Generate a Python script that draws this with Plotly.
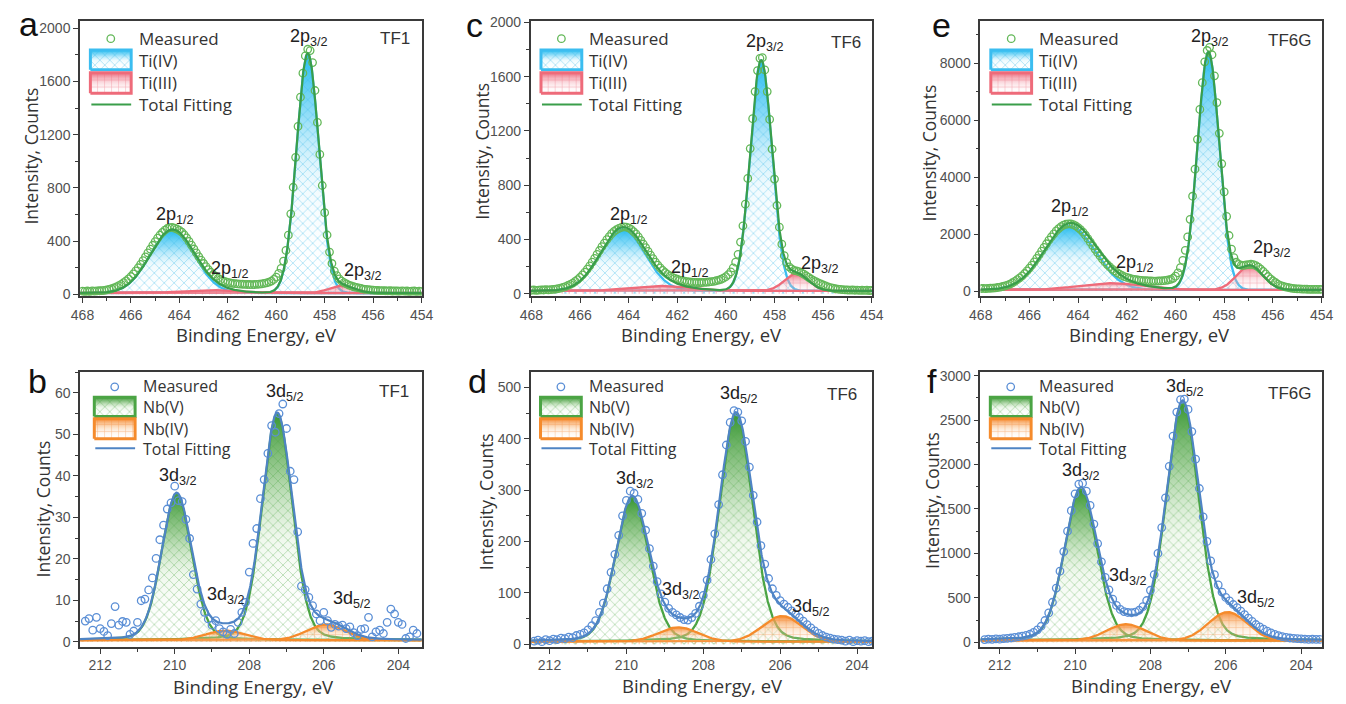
import numpy as np
import plotly.graph_objects as go

FIG_W, FIG_H = 1346, 704

# Measured XPS spectra (counts), one value every 0.1 eV going down from the start energy
TI_START = 468.0
NB_START = 212.4
E_STEP = 0.1

tf1_ti_counts = [
    24, 22, 25, 23, 26, 24, 26, 27, 28, 30,            # 468.0 - 467.1
    33, 37, 42, 48, 56, 65, 75, 88, 101, 116,          # 467.0 - 466.1
    134, 154, 176, 200, 226, 253, 281, 311, 340, 369,  # 466.0 - 465.1
    396, 422, 446, 466, 483, 495, 502, 503, 498, 491,  # 465.0 - 464.1
    481, 467, 448, 424, 398, 370, 341, 312, 284, 257,  # 464.0 - 463.1
    232, 208, 186, 166, 149, 134, 121, 110, 101, 95,   # 463.0 - 462.1
    90, 86, 83, 80, 78, 77, 76, 75, 74, 74,            # 462.0 - 461.1
    73, 74, 75, 77, 79, 82, 86, 92, 100, 112,          # 461.0 - 460.1
    130, 158, 195, 250, 330, 445, 605, 805, 1030, 1262,          # 460.0 - 459.1
    1482, 1662, 1792, 1842, 1832, 1742, 1532, 1292, 1052, 818,   # 459.0 - 458.1
    614, 446, 318, 232, 175, 140, 116, 100, 88, 78,    # 458.0 - 457.1
    70, 63, 57, 52, 48, 44, 40, 37, 35, 33,            # 457.0 - 456.1
    31, 30, 29, 28, 28, 27, 26, 27, 25, 26,            # 456.0 - 455.1
    25, 24, 26, 24, 25, 23, 24, 25, 23, 24,            # 455.0 - 454.1
    23,                                                # 454.0
]

tf6_ti_counts = [
    25, 27, 24, 26, 28, 27, 29, 28, 30, 32,
    34, 37, 41, 46, 52, 60, 68, 78, 90, 104,
    120, 138, 158, 181, 205, 232, 260, 289, 318, 346,
    373, 398, 421, 442, 459, 472, 481, 488, 492, 490,
    485, 474, 458, 440, 418, 393, 366, 340, 312, 284,
    258, 233, 210, 190, 172, 156, 142, 130, 120, 112,
    106, 100, 96, 92, 88, 86, 84, 83, 82, 82,
    82, 83, 84, 86, 88, 91, 95, 100, 106, 114,
    125, 140, 160, 190, 232, 290, 380, 500, 660, 850,
    1070, 1290, 1490, 1645, 1735, 1740, 1650, 1490, 1285, 1065,
    845, 650, 490, 365, 280, 228, 198, 182, 172, 168,
    162, 154, 144, 132, 120, 108, 97, 88, 80, 72,
    64, 57, 50, 45, 40, 36, 33, 31, 29, 28,
    27, 26, 27, 25, 26, 24, 25, 24, 25, 23,
    24,
]

tf6g_ti_counts = [
    88, 92, 86, 95, 98, 104, 112, 124, 140, 158,
    182, 210, 245, 290, 340, 398, 462, 535, 615, 705,
    805, 910, 1025, 1145, 1270, 1400, 1530, 1660, 1785, 1900,
    2010, 2110, 2195, 2265, 2315, 2345, 2360, 2355, 2330, 2290,
    2230, 2160, 2070, 1960, 1840, 1715, 1590, 1465, 1345, 1230,
    1120, 1020, 930, 848, 772, 705, 645, 592, 546, 508,
    478, 452, 430, 412, 398, 386, 376, 368, 362, 356,
    352, 350, 350, 352, 356, 362, 372, 388, 410, 448,
    520, 640, 820, 1080, 1430, 1900, 2520, 3330, 4280, 5330,
    6380, 7320, 8050, 8450, 8560, 8300, 7560, 6620, 5540, 4470,
    3480, 2620, 1950, 1470, 1170, 1010, 935, 905, 900, 915,
    930, 940, 925, 890, 840, 770, 690, 600, 510, 430,
    360, 300, 245, 200, 170, 145, 125, 108, 95, 85,
    78, 72, 68, 65, 63, 61, 60, 58, 59, 57,
    58,
]

tf1_nb_counts = [
    5.0, 5.6, 2.8, 5.9, 3.2, 2.5, 1.5, 4.4, 8.5, 4.0,          # 212.4 - 211.5
    4.9, 4.7, 1.8, 2.6, 4.7, 9.9, 10.3, 12.5, 15.4, 20.1,      # 211.4 - 210.5
    24.6, 28.1, 32.0, 33.5, 37.5, 34.0, 33.8, 29.5, 24.9, 16.2,  # 210.4 - 209.5
    12.7, 9.1, 7.1, 5.5, 4.0, 5.1, 3.2, 2.4, 1.8, 3.0,         # 209.4 - 208.5
    2.0, 4.7, 7.1, 9.5, 16.8, 23.7, 27.3, 34.5, 39.1, 45.4,    # 208.4 - 207.5
    52.1, 50.5, 55.0, 57.3, 51.4, 41.1, 39.1, 26.5, 13.4, 12.6,  # 207.4 - 206.5
    10.7, 8.7, 6.7, 5.1, 7.1, 5.1, 3.5, 4.2, 3.8, 4.0,         # 206.4 - 205.5
    3.2, 3.6, 2.2, 1.5, 3.0, 3.2, 5.9, 1.2, 2.4, 2.8,          # 205.4 - 204.5
    2.0, 4.7, 7.9, 6.7, 4.7, 4.2, 0.8, 1.2, 2.8, 2.0,          # 204.4 - 203.5
]

tf6_nb_counts = [
    6, 8, 5, 9, 7, 10, 9, 12, 11, 14,
    13, 17, 19, 22, 28, 36, 46, 62, 80, 108,
    140, 175, 212, 250, 280, 298, 294, 282, 255, 222,
    186, 152, 122, 98, 82, 70, 62, 57, 52, 48,
    47, 52, 60, 74, 95, 125, 165, 215, 272, 330,
    388, 432, 455, 452, 435, 395, 345, 290, 238, 192,
    156, 128, 108, 95, 85, 78, 72, 65, 58, 52,
    45, 38, 32, 26, 21, 17, 14, 12, 10, 9,
    8, 6, 8, 5, 7, 6, 7, 5, 6, 5,
]

tf6g_nb_counts = [
    30, 36, 33, 38, 35, 41, 44, 48, 55, 62,
    68, 78, 90, 112, 140, 180, 245, 330, 450, 610,
    800, 1020, 1250, 1480, 1670, 1780, 1790, 1700, 1540, 1330,
    1110, 905, 730, 590, 485, 415, 370, 345, 335, 332,
    340, 360, 400, 470, 585, 760, 1000, 1290, 1625, 1980,
    2320, 2590, 2730, 2735, 2620, 2370, 2060, 1730, 1410, 1135,
    915, 760, 645, 565, 505, 465, 425, 390, 350, 310,
    272, 236, 200, 172, 148, 125, 105, 88, 74, 63,
    55, 48, 43, 40, 37, 35, 33, 34, 32, 33,
]

# Fitted components: (centre eV, height counts, FWHM eV, Lorentzian fraction)
tf1_ti4_peaks = [(458.70, 1800, 1.08, 0.0), (464.30, 470, 2.15, 0.0)]
tf1_ti3_peaks = [(457.30, 55, 1.20, 0.0), (462.70, 22, 2.60, 0.0)]
tf6_ti4_peaks = [(458.55, 1700, 1.05, 0.0), (464.25, 455, 2.15, 0.0)]
tf6_ti3_peaks = [(457.10, 130, 1.15, 0.0), (462.70, 38, 2.80, 0.0)]
tf6g_ti4_peaks = [(458.65, 8350, 1.05, 0.0), (464.35, 2250, 2.45, 0.0)]
tf6g_ti3_peaks = [(456.95, 860, 1.25, 0.0), (462.65, 240, 3.00, 0.0)]

tf1_nb5_peaks = [(207.25, 54.5, 0.95, 0.15), (209.95, 35.2, 0.95, 0.15)]
tf1_nb4_peaks = [(205.95, 3.8, 1.20, 0.0), (208.65, 2.3, 1.20, 0.0)]
tf6_nb5_peaks = [(207.15, 442, 1.02, 0.15), (209.85, 280, 1.02, 0.15)]
tf6_nb4_peaks = [(205.95, 50, 1.20, 0.0), (208.65, 28, 1.20, 0.0)]
tf6g_nb5_peaks = [(207.15, 2670, 1.02, 0.15), (209.85, 1700, 1.02, 0.15)]
tf6g_nb4_peaks = [(205.95, 320, 1.20, 0.0), (208.65, 183, 1.20, 0.0)]

# Constant background under each fit
backgrounds = {"a": 10, "c": 20, "e": 40, "b": 0.4, "d": 5, "f": 20}

# Peak labels: (text, binding energy, counts)
P12, P32 = "2p<sub>1/2</sub>", "2p<sub>3/2</sub>"
D32, D52 = "3d<sub>3/2</sub>", "3d<sub>5/2</sub>"
tf1_ti_labels = [(P32, 458.64, 1933), (P12, 464.19, 591), (P12, 461.89, 185), (P32, 456.41, 172)]
tf6_ti_labels = [(P32, 458.40, 1855), (P12, 463.97, 575), (P12, 461.49, 188), (P32, 456.12, 213)]
tf6g_ti_labels = [(P32, 458.59, 8919), (P12, 464.35, 2935), (P12, 461.67, 977), (P32, 456.04, 1495)]
tf1_nb_labels = [(D52, 207.05, 60.0), (D32, 209.91, 39.9), (D32, 208.63, 11.1), (D52, 205.25, 10.3)]
tf6_nb_labels = [(D52, 207.08, 487), (D32, 209.77, 321), (D32, 208.57, 104), (D52, 205.21, 72)]
tf6g_nb_labels = [(D52, 207.07, 2865), (D32, 209.85, 1925), (D32, 208.59, 745), (D52, 205.19, 487)]

# ---------------------------------------------------------------- styles
FRAME = "#3a3a3a"
CLEAR = "rgba(0,0,0,0)"
TICK_FONT = dict(family="Liberation Sans, Arial, sans-serif", size=14, color="#505050")
TITLE_FONT = dict(family="Open Sans, sans-serif", size=18.5, color="#333333")
LABEL_FONT = dict(family="Liberation Sans, Arial, sans-serif", size=18, color="#222222")

STYLE = {
    "ti4": dict(line="#3bbdf0", pat="x", patc="rgba(55,185,232,0.70)",
                grad=[[0, "rgba(255,255,255,0)"], [0.45, "rgba(200,238,250,0.25)"],
                      [0.75, "rgba(95,206,245,0.70)"], [1, "rgba(35,188,240,1)"]]),
    "ti3": dict(line="#ee6b7a", pat="+", patc="rgba(235,105,122,0.55)",
                grad=[[0, "rgba(255,255,255,0)"], [0.5, "rgba(245,175,185,0.40)"],
                      [1, "rgba(235,95,115,0.95)"]]),
    "nb5": dict(line="#4ba444", pat="x", patc="rgba(75,165,65,0.65)",
                grad=[[0, "rgba(255,255,255,0)"], [0.45, "rgba(195,228,185,0.25)"],
                      [0.75, "rgba(110,180,100,0.70)"], [1, "rgba(55,150,50,1)"]]),
    "nb4": dict(line="#f58b2c", pat="+", patc="rgba(245,140,60,0.55)",
                grad=[[0, "rgba(255,255,255,0)"], [0.5, "rgba(250,200,150,0.40)"],
                      [1, "rgba(245,135,45,0.95)"]]),
}
FIT_COLOR = {"ti": "#3a9e4a", "nb": "#4f84c4"}
MEAS_COLOR = {"ti": "#63b858", "nb": "#5b8fd6"}
LEG_NAMES = {"ti": ["Measured", "Ti(IV)", "Ti(III)", "Total Fitting"],
             "nb": ["Measured", "Nb(V)", "Nb(IV)", "Total Fitting"]}

COLS = [(0.0522, 0.3105), (0.3928, 0.6508), (0.7328, 0.9908)]
ROWS = [(0.5810, 0.9790), (0.0740, 0.4710)]

PANELS = [
    dict(tag="a", sample="TF1", kind="ti", counts=tf1_ti_counts, major=tf1_ti4_peaks, minor=tf1_ti3_peaks,
         labels=tf1_ti_labels, xr=[468.1, 453.99], yr=[-12, 2058], dtick=400, minor_dt=200, col=0, row=0,
         letter=(18, 18), sample_pos=(408, 33), ytitle=(20, 152.5), xtitle=(250, 334), legx=10.5),
    dict(tag="c", sample="TF6", kind="ti", counts=tf6_ti_counts, major=tf6_ti4_peaks, minor=tf6_ti3_peaks,
         labels=tf6_ti_labels, xr=[468.03, 453.99], yr=[-17, 2014], dtick=400, minor_dt=200, col=1, row=0,
         letter=(472, 19), sample_pos=(867, 37), ytitle=(479, 147.5), xtitle=(703, 334), legx=10.5),
    dict(tag="e", sample="TF6G", kind="ti", counts=tf6g_ti_counts, major=tf6g_ti4_peaks, minor=tf6g_ti3_peaks,
         labels=tf6g_ti_labels, xr=[468.01, 453.99], yr=[-173, 9502], dtick=2000, minor_dt=1000, col=2, row=0,
         letter=(947, 19), sample_pos=(1325, 35), ytitle=(934, 150), xtitle=(1158, 334), legx=10.5),
    dict(tag="b", sample="TF1", kind="nb", counts=tf1_nb_counts, major=tf1_nb5_peaks, minor=tf1_nb4_peaks,
         labels=tf1_nb_labels, xr=[212.54, 203.37], yr=[-1.2, 65], dtick=10, minor_dt=5, col=0, row=1,
         letter=(27, 381), sample_pos=(407, 392), ytitle=(33, 511.7), xtitle=(247, 692), legx=14.5),
    dict(tag="d", sample="TF6", kind="nb", counts=tf6_nb_counts, major=tf6_nb5_peaks, minor=tf6_nb4_peaks,
         labels=tf6_nb_labels, xr=[212.49, 203.61], yr=[-5, 530], dtick=100, minor_dt=50, col=1, row=1,
         letter=(475, 381), sample_pos=(863, 395), ytitle=(484, 504), xtitle=(704, 691), legx=10),
    dict(tag="f", sample="TF6G", kind="nb", counts=tf6g_nb_counts, major=tf6g_nb5_peaks, minor=tf6g_nb4_peaks,
         labels=tf6g_nb_labels, xr=[212.51, 203.45], yr=[-51, 3040], dtick=500, minor_dt=250, col=2, row=1,
         letter=(937, 381), sample_pos=(1325, 394), ytitle=(937, 502.5), xtitle=(1160, 691), legx=10),
]

# legend item offsets (px) from the top-left of each plot box
LEG_Y = {0: dict(marker=18.5, box1=(30, 50), box2=(53, 74), line=85.5, text=[18.5, 40.5, 63.5, 85.5], size=17),
         1: dict(marker=15, box1=(25.5, 45.3), box2=(47.6, 67.8), line=77.6, text=[14.5, 35.6, 57.5, 78.3],
                 size=16)}
LEG_BOX_W, LEG_TEXT_DX = 41.5, 47


def pseudo_voigt(e, centre, height, fwhm, eta):
    u = ((e - centre) / fwhm) ** 2
    return height * ((1 - eta) * np.exp(-4 * np.log(2) * u) + eta / (1 + 4 * u))


def px_to_paper(x, y):
    return x / FIG_W, 1 - y / FIG_H


def pattern(st):
    return dict(shape=st["pat"], fgcolor=st["patc"], bgcolor=CLEAR, size=7, solidity=0.14, fillmode="replace")


fig = go.Figure()
layout = {}
annotations = []

for i, p in enumerate(PANELS, start=1):
    xa, ya = ("x", "y") if i == 1 else (f"x{i}", f"y{i}")
    kind = p["kind"]
    bg = backgrounds[p["tag"]]
    major_style, minor_style = (STYLE["ti4"], STYLE["ti3"]) if kind == "ti" else (STYLE["nb5"], STYLE["nb4"])
    xdom, ydom = COLS[p["col"]], ROWS[p["row"]]
    box_w = (xdom[1] - xdom[0]) * FIG_W
    box_h = (ydom[1] - ydom[0]) * FIG_H
    x0, x1 = p["xr"]
    y0, y1 = p["yr"]

    # pixel offsets inside the plot box -> axis units (used for the in-plot legend)
    def ax_x(dx, x0=x0, x1=x1, box_w=box_w):
        return x0 + (x1 - x0) * dx / box_w

    def ax_y(dy, y0=y0, y1=y1, box_h=box_h):
        return y1 - (y1 - y0) * dy / box_h

    # fitted components and total envelope
    grid = np.linspace(x0, x1, 900)
    total = np.full_like(grid, bg, dtype=float)
    for peaks, st in ((p["major"], major_style), (p["minor"], minor_style)):
        for c, h, w, eta in peaks:
            comp = pseudo_voigt(grid, c, h, w, eta)
            total += comp
            y = bg + comp
            fig.add_trace(go.Scatter(x=grid, y=y, xaxis=xa, yaxis=ya, mode="none", fill="tozeroy",
                                     fillcolor=CLEAR,
                                     fillgradient=dict(type="vertical", colorscale=st["grad"]),
                                     hoverinfo="skip", showlegend=False))
            fig.add_trace(go.Scatter(x=grid, y=y, xaxis=xa, yaxis=ya, mode="lines",
                                     line=dict(color=st["line"], width=2.3), fill="tozeroy",
                                     fillcolor=CLEAR, fillpattern=pattern(st),
                                     hoverinfo="skip", showlegend=False))

    counts = np.array(p["counts"], dtype=float)
    start = TI_START if kind == "ti" else NB_START
    energies = np.round(start - E_STEP * np.arange(len(counts)), 2)
    fig.add_trace(go.Scatter(x=energies, y=counts, xaxis=xa, yaxis=ya, mode="markers",
                             marker=dict(symbol="circle-open", size=7.5, color=MEAS_COLOR[kind],
                                         line=dict(width=1.3)),
                             hoverinfo="skip", showlegend=False))
    fig.add_trace(go.Scatter(x=grid, y=total, xaxis=xa, yaxis=ya, mode="lines",
                             line=dict(color=FIT_COLOR[kind], width=2.2),
                             hoverinfo="skip", showlegend=False))

    axis_common = dict(showline=True, linecolor=FRAME, linewidth=1.6, mirror=True, ticks="outside",
                       ticklen=5, tickwidth=1.3, tickcolor=FRAME, showgrid=False, zeroline=False,
                       tickfont=TICK_FONT, fixedrange=True)
    layout["xaxis" if i == 1 else f"xaxis{i}"] = dict(
        domain=list(xdom), anchor=ya, range=p["xr"], autorange=False, tick0=0, dtick=2,
        minor=dict(dtick=1, ticks="outside", ticklen=3, tickcolor=FRAME, tickwidth=1.1), **axis_common)
    layout["yaxis" if i == 1 else f"yaxis{i}"] = dict(
        domain=list(ydom), anchor=xa, range=p["yr"], autorange=False, tick0=0, dtick=p["dtick"],
        tickformat="d",
        minor=dict(dtick=p["minor_dt"], ticks="outside", ticklen=3, tickcolor=FRAME, tickwidth=1.1),
        **axis_common)

    # in-plot legend
    ly = LEG_Y[p["row"]]
    leg_font = dict(family="Open Sans, sans-serif", size=ly["size"], color="#333333")
    lx0 = p["legx"]
    lx1 = lx0 + LEG_BOX_W
    fig.add_trace(go.Scatter(x=[ax_x((lx0 + lx1) / 2)], y=[ax_y(ly["marker"])], xaxis=xa, yaxis=ya,
                             mode="markers", marker=dict(symbol="circle-open", size=7.5, color=MEAS_COLOR[kind],
                                                         line=dict(width=1.3)),
                             hoverinfo="skip", showlegend=False))
    for (t0, t1), st in ((ly["box1"], major_style), (ly["box2"], minor_style)):
        bx = [ax_x(lx0), ax_x(lx1), ax_x(lx1), ax_x(lx0), ax_x(lx0)]
        by = [ax_y(t1), ax_y(t1), ax_y(t0), ax_y(t0), ax_y(t1)]
        fig.add_trace(go.Scatter(x=bx, y=by, xaxis=xa, yaxis=ya, mode="none", fill="toself",
                                 fillcolor=CLEAR,
                                 fillgradient=dict(type="vertical", colorscale=st["grad"]),
                                 hoverinfo="skip", showlegend=False))
        fig.add_trace(go.Scatter(x=bx, y=by, xaxis=xa, yaxis=ya, mode="lines", fill="toself",
                                 line=dict(color=st["line"], width=3), fillcolor=CLEAR,
                                 fillpattern=pattern(st),
                                 hoverinfo="skip", showlegend=False))
    fig.add_trace(go.Scatter(x=[ax_x(lx0 + 1), ax_x(lx1)], y=[ax_y(ly["line"])] * 2, xaxis=xa, yaxis=ya,
                             mode="lines", line=dict(color=FIT_COLOR[kind], width=2),
                             hoverinfo="skip", showlegend=False))
    for name, ty in zip(LEG_NAMES[kind], ly["text"]):
        annotations.append(dict(x=ax_x(lx0 + LEG_TEXT_DX), y=ax_y(ty), xref=xa, yref=ya, text=name,
                                showarrow=False, xanchor="left", yanchor="middle", font=leg_font))

    # peak labels
    for text, ex, ey in p["labels"]:
        annotations.append(dict(x=ex, y=ey, xref=xa, yref=ya, text=text, showarrow=False,
                                xanchor="center", yanchor="middle", font=LABEL_FONT))

    # panel letter, sample name, axis titles
    lx, lyy = px_to_paper(*p["letter"])
    annotations.append(dict(x=lx, y=lyy, xref="paper", yref="paper", text=p["tag"], showarrow=False,
                            xanchor="center", yanchor="middle",
                            font=dict(family="Liberation Sans, Arial, sans-serif", size=34, color="#111111")))
    sx, sy = px_to_paper(*p["sample_pos"])
    annotations.append(dict(x=sx, y=sy, xref="paper", yref="paper", text=p["sample"], showarrow=False,
                            xanchor="right", yanchor="middle",
                            font=dict(family="Liberation Sans, Arial, sans-serif", size=17, color="#333333")))
    tx, ty = px_to_paper(*p["xtitle"])
    annotations.append(dict(x=tx, y=ty, xref="paper", yref="paper", text="Binding Energy, eV",
                            showarrow=False, xanchor="center", yanchor="middle", font=TITLE_FONT))
    vx, vy = px_to_paper(*p["ytitle"])
    annotations.append(dict(x=vx, y=vy, xref="paper", yref="paper", text="Intensity, Counts",
                            showarrow=False, xanchor="center", yanchor="middle", textangle=-90,
                            font=dict(TITLE_FONT, size=17.5)))

fig.update_layout(
    width=FIG_W, height=FIG_H, margin=dict(l=0, r=0, t=0, b=0),
    paper_bgcolor="white", plot_bgcolor="rgba(0,0,0,0)",
    showlegend=False, annotations=annotations, **layout,
)

fig.write_html("out.html")
